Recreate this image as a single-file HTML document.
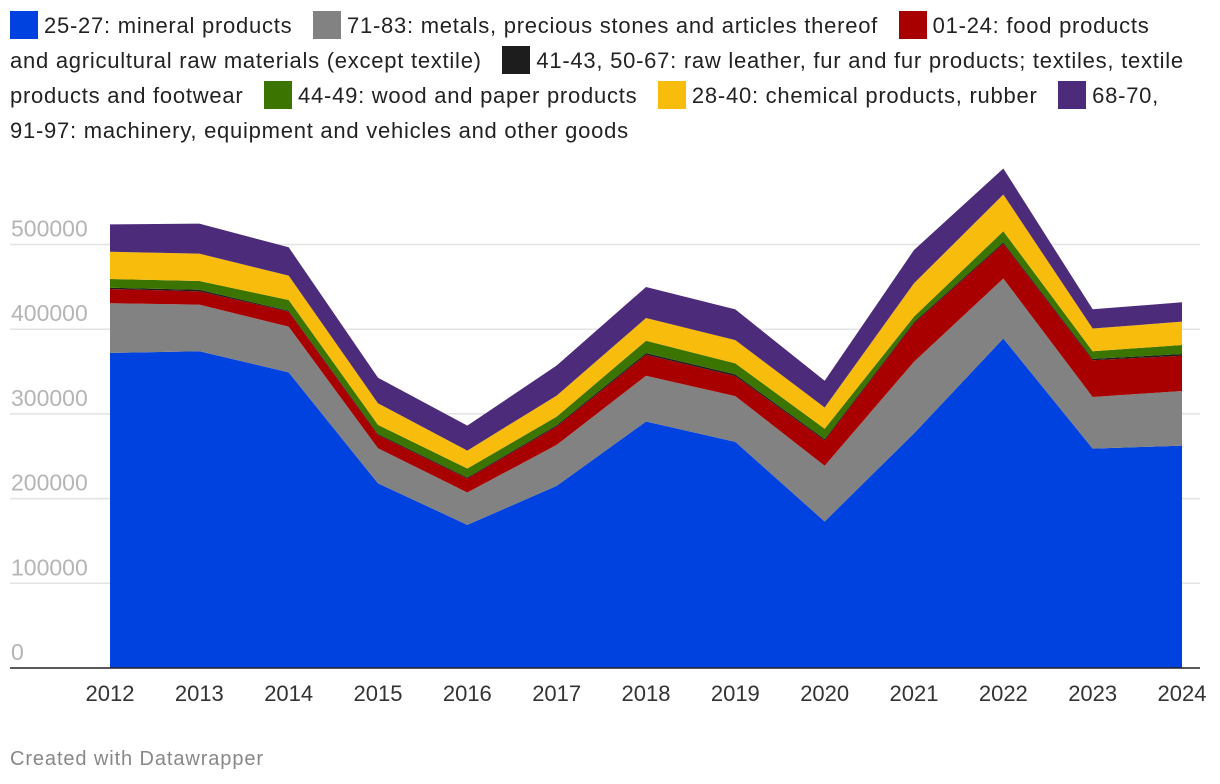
<!DOCTYPE html>
<html><head><meta charset="utf-8">
<style>
body{margin:0;width:1220px;height:784px;background:#fff;font-family:"Liberation Sans",Arial,sans-serif;overflow:hidden;position:relative}
#legend{position:absolute;left:10px;top:8px;width:1210px;font-size:22px;letter-spacing:0.75px;line-height:35px;color:#222;white-space:nowrap}
.sw{display:inline-block;width:28px;height:28px;vertical-align:-6px;margin-right:6px}
#credit{position:absolute;left:10px;top:748px;font-size:20px;letter-spacing:0.9px;color:#888}
svg{position:absolute;left:0;top:0}
</style></head><body>
<div id="legend">
<span class="li"><span class="sw" style="background:#0042e0"></span>25-27: mineral products</span>&nbsp;&nbsp;
<span class="li"><span class="sw" style="background:#828282"></span>71-83: metals, precious stones and articles thereof</span>&nbsp;&nbsp;
<span class="li"><span class="sw" style="background:#a80000"></span>01-24: food products<br>and agricultural raw materials (except textile)</span>&nbsp;&nbsp;
<span class="li"><span class="sw" style="background:#1d1d1d"></span>41-43, 50-67: raw leather, fur and fur products; textiles, textile<br>products and footwear</span>&nbsp;&nbsp;
<span class="li"><span class="sw" style="background:#3c7400"></span>44-49: wood and paper products</span>&nbsp;&nbsp;
<span class="li"><span class="sw" style="background:#f8bc0c"></span>28-40: chemical products, rubber</span>&nbsp;&nbsp;
<span class="li"><span class="sw" style="background:#4c2c7a"></span>68-70,<br>91-97: machinery, equipment and vehicles and other goods</span>
</div>
<svg id="chart" width="1220" height="784"></svg>
<div id="credit">Created with Datawrapper</div>
<script>
const years=[2012,2013,2014,2015,2016,2017,2018,2019,2020,2021,2022,2023,2024];
const mineral=[372,374,349,218,169,215,291,267,173,277,389,259,262.5];
const metals=[58.6,55,54,41.4,38.2,48.4,54,54,65.8,84.6,70.8,61,64.5];
const food=[16.9,15.6,17.7,15.6,16.5,21.7,24.8,23.6,29.9,45.4,41.3,43.3,41.7];
const leather=[1.5,2,1.1,1.3,1.2,1.5,2,2,1.6,1.5,1.6,1.6,2];
const wood=[10.3,10.3,12.7,10.7,10.6,10.2,14.5,13,12.2,6.3,13,9.1,10.6];
const chemical=[32.2,32.3,28.7,25.5,21.2,24.8,26.9,27.5,25.1,39.4,43.3,26.8,27.6];
const machinery=[32.3,35.4,33.5,30.2,29.5,35.5,36.6,36.3,31.5,39.3,30.7,22.7,22.9];
const yTicks=[0,100000,200000,300000,400000,500000];
const seriesNames=["mineral","metals","food","leather","wood","chemical","machinery"];
const seriesData=[mineral,metals,food,leather,wood,chemical,machinery];
const colors=["#0042e0","#828282","#a80000","#1d1d1d","#3c7400","#f8bc0c","#4c2c7a"];
const NS="http://www.w3.org/2000/svg";
const svg=document.getElementById('chart');
const x=i=>110+i*(1182-110)/(years.length-1);
const y=v=>668-v*0.000847;
function mk(t,a){const e=document.createElementNS(NS,t);for(const k in a)e.setAttribute(k,a[k]);svg.appendChild(e);return e;}
yTicks.forEach(t=>{
  if(t>0){const g=mk('line',{x1:10,x2:1200,y1:y(t),y2:y(t),stroke:'#e3e3e3','stroke-width':1.5});
  
  }
});
let base=years.map(()=>0);
seriesData.forEach((s,si)=>{
  const top=base.map((b,i)=>b+s[i]*1000);
  let d='M'+years.map((_,i)=>x(i)+','+y(top[i])).join('L');
  for(let i=years.length-1;i>=0;i--)d+='L'+x(i)+','+y(base[i]);
  d+='Z';
  const p=mk('path',{d:d,fill:colors[si]});
  
  
  base=top;
});
yTicks.forEach(t=>{
  const tx=mk('text',{x:11,y:y(t)-8,fill:'#b5b5b5','font-size':23,'font-family':'Liberation Sans, Arial, sans-serif'});
  tx.textContent=String(t);
  
  
});
const ax=mk('line',{x1:10,x2:1200,y1:668,y2:668,stroke:'#222','stroke-width':1.5});


years.forEach((yr,i)=>{
  const tx=mk('text',{x:x(i),y:701,'text-anchor':'middle',fill:'#333','font-size':22,'font-family':'Liberation Sans, Arial, sans-serif'});
  tx.textContent=String(yr);
  
  
});
</script>
</body></html>
